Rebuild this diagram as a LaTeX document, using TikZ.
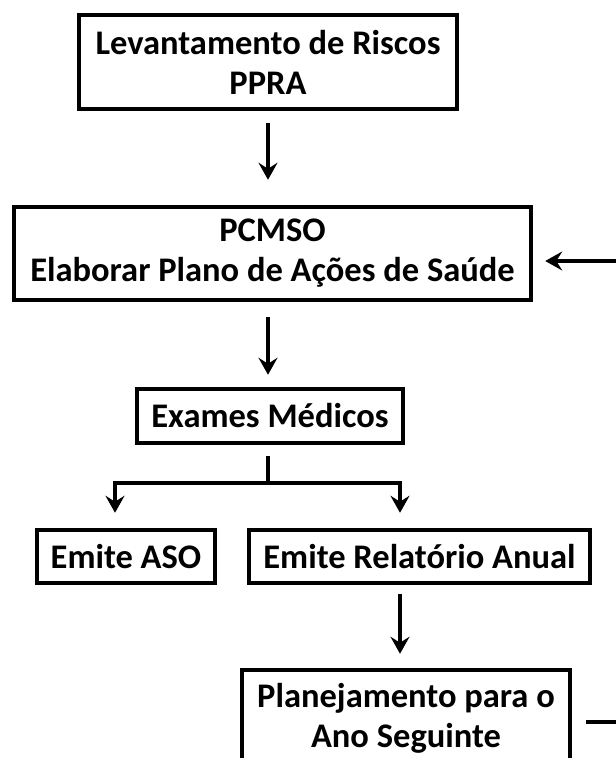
\documentclass[tikz,border=0pt]{standalone}
\usepackage{fontspec}
\setmainfont{Carlito}
\usetikzlibrary{arrows.meta,calc}
\begin{document}
\begin{tikzpicture}[x=1pt,y=-1pt,
  box/.style={draw=black,line width=4.5pt,inner sep=0pt,align=center,
    font=\fontsize{34.5}{40}\selectfont\bfseries},
  conn/.style={line width=4pt},
  arr/.style={conn,-{Stealth[length=17pt,width=19pt,inset=6pt]}}]
\clip (0,0) rectangle (616,758);
\fill[white] (0,0) rectangle (616,758);
% boxes
\node[box,minimum width=378pt,minimum height=94pt] (risk) at (268,62) {Levantamento de Riscos\\PPRA};
\node[box,minimum width=517pt,minimum height=93pt] (pc) at (272.5,253.5) {PCMSO\\Elaborar Plano de Ações de Saúde};
\node[box,minimum width=266pt,minimum height=54pt] (ex) at (270,416) {Exames Médicos};
\node[box,minimum width=178pt,minimum height=53pt] (aso) at (126,556.5) {Emite ASO};
\node[box,minimum width=341pt,minimum height=53pt] (rel) at (419.5,556.5) {Emite Relatório Anual};
\node[box,minimum width=328pt,minimum height=96pt] (plan) at (406,718) {Planejamento para o\\Ano Seguinte};
% junction coordinates
\coordinate (j) at (268,483);
\coordinate (jl) at (115,483);
\coordinate (jr) at (400,483);
% connectors
\draw[arr,shorten <=12pt,shorten >=25pt] (risk.south) -- (risk.south |- pc.north);
\draw[arr,shorten <=15pt,shorten >=12pt] (risk.south |- pc.south) -- (risk.south |- ex.north);
\draw[conn,shorten <=11pt] (j |- ex.south) -- (j);
\draw[arr,shorten >=15pt] (j) -| (jl |- aso.north);
\draw[arr,shorten >=15pt] (j) -| (jr |- rel.north);
\draw[arr,shorten <=9pt,shorten >=14pt] (jr |- rel.south) -- (jr |- plan.north);
\draw[arr,shorten <=14pt,shorten >=12pt] ([yshift=-4pt]plan.east) -- ++(80,0) |- ([yshift=-7.5pt]pc.east);
\end{tikzpicture}
\end{document}
